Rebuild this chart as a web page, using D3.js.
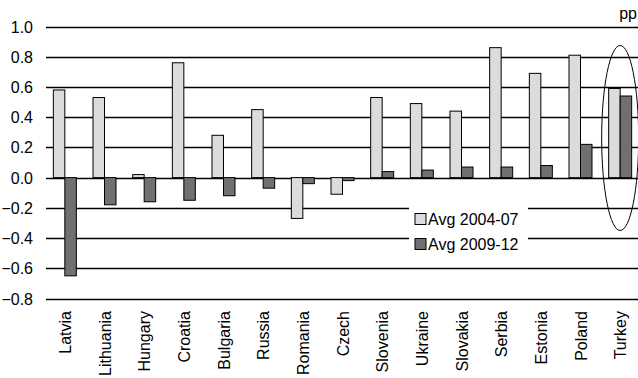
<!DOCTYPE html>
<html><head><meta charset="utf-8">
<script src="https://cdn.jsdelivr.net/npm/d3@7"></script>
<style>body{margin:0;background:#fff}svg{display:block;font-family:"Liberation Sans",Arial,sans-serif}</style>
</head><body>
<svg id="c" width="638" height="378"></svg>
<script>
const categories = ["Latvia","Lithuania","Hungary","Croatia","Bulgaria","Russia","Romania","Czech","Slovenia","Ukraine","Slovakia","Serbia","Estonia","Poland","Turkey"];
const avg0407 = [0.58,0.53,0.02,0.76,0.28,0.45,-0.27,-0.11,0.53,0.49,0.44,0.86,0.69,0.81,0.59];
const avg0912 = [-0.65,-0.18,-0.16,-0.15,-0.12,-0.07,-0.04,-0.02,0.04,0.05,0.07,0.07,0.08,0.22,0.54];
const seriesNames = ["Avg 2004-07","Avg 2009-12"];
const yTicks = [-0.8,-0.6,-0.4,-0.2,0,0.2,0.4,0.6,0.8,1.0];
const colors = ["#dcdcdc","#707070"];

const svg = d3.select("#c");
const x = d3.scaleBand().domain(categories).range([45,640]).paddingInner(0.4).paddingOuter(0.2);
const y = d3.scaleLinear().domain([-0.8,1.0]).range([298.5,26.5]);

// gridlines
svg.append("g").selectAll("line").data(yTicks).join("line")
  .attr("x1",46).attr("x2",638).attr("y1",d=>Math.round(y(d))+0.5).attr("y2",d=>Math.round(y(d))+0.5)
  .attr("stroke","#000").attr("stroke-width",1.3);

// y labels
svg.append("g").selectAll("text").data(yTicks).join("text")
  .attr("x",33).attr("y",d=>y(d)+6).attr("text-anchor","end")
  .attr("font-size",16).attr("fill","#000").text(d=>d3.format(".1f")(d));

const bw = 11.5;
const groups = [avg0407, avg0912];
groups.forEach((vals,si)=>{
  svg.append("g").selectAll("rect").data(vals).join("rect")
    .attr("x",(d,i)=>x(categories[i]) + x.bandwidth()/2 - bw + si*bw)
    .attr("width",bw)
    .attr("y",d=>Math.min(y(d),y(0)))
    .attr("height",d=>Math.abs(y(d)-y(0)))
    .attr("fill",colors[si]).attr("stroke","#000").attr("stroke-width",1);
});

// category labels
svg.append("g").selectAll("text").data(categories).join("text")
  .attr("transform",d=>`translate(${x(d)+x.bandwidth()/2+6},311) rotate(-90)`)
  .attr("text-anchor","end").attr("font-size",16).attr("fill","#000").text(d=>d);

// unit
svg.append("text").attr("x",637).attr("y",19).attr("text-anchor","end").attr("font-size",16).text("pp");

// legend
const lg = svg.append("g");
lg.append("rect").attr("x",409).attr("y",204).attr("width",119).attr("height",50).attr("fill","#fff");
seriesNames.forEach((n,i)=>{
  lg.append("rect").attr("x",415).attr("y",213.5+i*25).attr("width",11).attr("height",11)
    .attr("fill",colors[i]).attr("stroke","#000").attr("stroke-width",1);
  lg.append("text").attr("x",428).attr("y",225+i*25).attr("font-size",16).text(n);
});

// ellipse around Turkey
const tx = x("Turkey")+x.bandwidth()/2;
svg.append("ellipse").attr("cx",tx).attr("cy",138).attr("rx",18.5).attr("ry",92.5)
  .attr("fill","none").attr("stroke","#000").attr("stroke-width",1);
</script>
</body></html>
